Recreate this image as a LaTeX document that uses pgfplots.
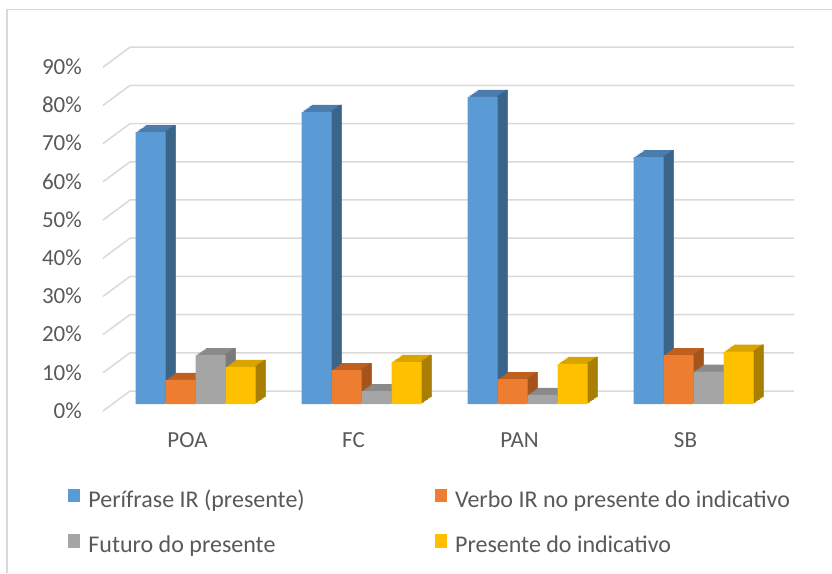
\documentclass[border=0pt]{standalone}
\usepackage{fontspec}
\setmainfont{Carlito}
\usepackage{pgfplots}
\usepackage{pgfplotstable}
\pgfplotsset{compat=1.18}
\definecolor{c1}{HTML}{5B9BD5}\definecolor{c1t}{HTML}{4A7CAE}\definecolor{c1s}{HTML}{3A6388}
\definecolor{c2}{HTML}{ED7D31}\definecolor{c2t}{HTML}{C0601F}\definecolor{c2s}{HTML}{A4531A}
\definecolor{c3}{HTML}{A5A5A5}\definecolor{c3t}{HTML}{8A8A8A}\definecolor{c3s}{HTML}{7A7A7A}
\definecolor{c4}{HTML}{FFC000}\definecolor{c4t}{HTML}{D9A300}\definecolor{c4s}{HTML}{A67D00}
\definecolor{gridc}{HTML}{D9D9D9}
\definecolor{textc}{HTML}{595959}
% Perifrase IR (presente)
\pgfplotstableread{
x y
0 71.2
1 76.5
2 80.4
3 64.6
}\tperif
% Verbo IR no presente do indicativo
\pgfplotstableread{
x y
0 6.3
1 8.9
2 6.5
3 12.8
}\tverbo
% Futuro do presente
\pgfplotstableread{
x y
0 12.8
1 3.4
2 2.4
3 8.5
}\tfuturo
% Presente do indicativo
\pgfplotstableread{
x y
0 9.7
1 11.0
2 10.5
3 13.7
}\tpres
% #1 table, #2 bar shift, #3 front colour, #4 top colour, #5 side colour, #6 side strip shift
\newcommand\threedbar[6]{%
  \pgfplotsinvokeforeach{1,...,5}{%
    \addplot[forget plot, draw=none, fill=#4, bar shift=#2pt, xshift=##1*2pt, yshift=##1*1.4pt] table[x=x,y=y] {#1};
  }%
  \pgfplotsinvokeforeach{1,...,5}{%
    \addplot[forget plot, draw=none, fill=#5, bar width=2.4pt, bar shift=#6pt, xshift=##1*2pt, yshift=##1*1.4pt] table[x=x,y=y] {#1};
  }%
  \addplot[forget plot, draw=none, fill=#3, bar shift=#2pt] table[x=x,y=y] {#1};
}
\begin{document}
\begin{tikzpicture}
\useasboundingbox (0,0) rectangle (832pt,573pt);
\draw[gridc, line width=1.5pt] (7pt,0pt) -- (7pt,563.5pt) -- (832pt,563.5pt);
\begin{axis}[
  at={(112.5pt,169pt)}, anchor=south west,
  x=166pt, y=3.82pt,
  xmin=-0.5, xmax=3.5, ymin=0, ymax=90,
  axis line style={draw=none}, major tick length=0pt,
  ytick={0,10,...,90}, yticklabel={\pgfmathprintnumber{\tick}\%},
  xtick={0,1,2,3}, xticklabels={POA,FC,PAN,SB},
  ticklabel style={font=\fontsize{23}{27}\selectfont, text=textc},
  yticklabel style={anchor=east, inner sep=0pt, xshift=-30.5pt, yshift=-6.5pt},
  xticklabel style={anchor=center, inner sep=0pt, yshift=-36pt, xshift=-8pt},
  /pgf/number format/assume math mode=true,
  clip=false, ybar, bar width=30pt,
  legend columns=2,
  legend cell align=left,
  legend style={draw=none, fill=none, at={(-0.067,-0.2472)}, anchor=north west,
    font=\fontsize{24}{28}\selectfont, text=textc, inner sep=0pt, outer sep=0pt,
    nodes={inner sep=0pt, text height=17pt, text depth=5pt},
    row sep=22pt,
    /tikz/every even column/.append style={column sep=130pt}},
]
\pgfplotsinvokeforeach{0,10,...,90}{
  \draw[gridc, line width=1.5pt] ([shift={(-9.5pt,-7pt)}]axis cs:-0.5,#1) -- ([shift={(17.5pt,13pt)}]axis cs:-0.5,#1) -- ([shift={(17.5pt,13pt)}]axis cs:3.5,#1);
}
\threedbar{\tperif}{-45}{c1}{c1t}{c1s}{-31}
\threedbar{\tverbo}{-15}{c2}{c2t}{c2s}{-1}
\threedbar{\tfuturo}{15}{c3}{c3t}{c3s}{29}
\threedbar{\tpres}{45}{c4}{c4t}{c4s}{59}
\addlegendimage{legend image code/.code={\fill[c1] (0pt,0pt) rectangle (11pt,12.3pt); \path (20pt,0pt);}}
\addlegendentry{Perífrase IR (presente)}
\addlegendimage{legend image code/.code={\fill[c2] (0pt,0pt) rectangle (11pt,12.3pt); \path (20pt,0pt);}}
\addlegendentry{Verbo IR no presente do indicativo}
\addlegendimage{legend image code/.code={\fill[c3] (0pt,0pt) rectangle (11pt,12.3pt); \path (20pt,0pt);}}
\addlegendentry{Futuro do presente}
\addlegendimage{legend image code/.code={\fill[c4] (0pt,0pt) rectangle (11pt,12.3pt); \path (20pt,0pt);}}
\addlegendentry{Presente do indicativo}
\end{axis}
\end{tikzpicture}
\end{document}
